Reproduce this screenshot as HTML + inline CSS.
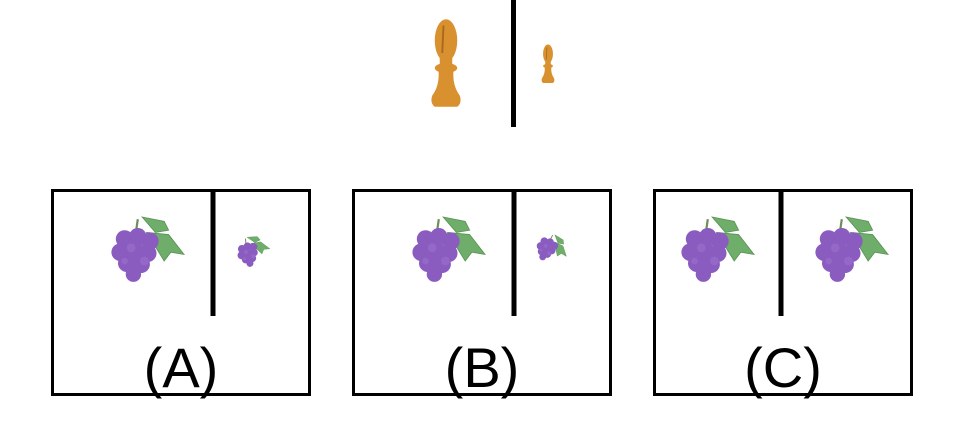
<!DOCTYPE html>
<html><head><meta charset="utf-8"><style>
html,body{margin:0;padding:0;background:#fff;}
svg{display:block;}
text{font-family:"Liberation Sans",sans-serif;}
</style></head><body>
<svg width="963" height="446" viewBox="0 0 963 446">
<defs>
<g id="grape">
  <g fill="#6fae6a" stroke="#5a9456" stroke-width="0.8">
    <polygon points="2,-30 22,-26 26,-18 14,-16"/>
    <polygon points="6,-16 26,-14 40,4 28,2 22,10"/>
  </g>
  <line x1="-2" y1="-28" x2="-4" y2="-14" stroke="#6b8f55" stroke-width="2"/>
  <g fill="#8a5cc0">
    <circle cx="-14" cy="-10" r="8"/><circle cx="-2" cy="-12" r="8"/><circle cx="9" cy="-8" r="8"/>
    <circle cx="-18" cy="2" r="8"/><circle cx="-6" cy="0" r="9"/><circle cx="7" cy="3" r="8"/>
    <circle cx="-12" cy="12" r="8"/><circle cx="1" cy="13" r="8"/>
    <circle cx="-6" cy="22" r="7"/>
  </g>
  <g fill="#9b70cc" opacity="0.6">
    <circle cx="-8" cy="-2" r="4"/><circle cx="4" cy="10" r="4"/><circle cx="-14" cy="10" r="3"/>
  </g>
</g>
<g id="pawn" fill="#d9912f">
  <ellipse cx="0" cy="-22" rx="9" ry="17"/>
  <rect x="-5" y="-8" width="10" height="8"/>
  <ellipse cx="0" cy="0" rx="9" ry="4"/>
  <path d="M-6,2 Q-5,14 -11,22 Q-13,28 -9,31 L9,31 Q13,28 11,22 Q5,14 6,2 Z"/>
  <line x1="-2" y1="-34" x2="-3" y2="-12" stroke="#a8681e" stroke-width="1.5"/>
</g>
</defs>

<rect x="511" y="0" width="5" height="127" fill="#000"/>
<use href="#pawn" transform="translate(446,68) scale(1.25)"/>
<use href="#pawn" transform="translate(548,66) scale(0.55)"/>

<g>
  <rect x="52.5" y="190.5" width="257" height="204" fill="none" stroke="#000" stroke-width="3"/>
  <rect x="210.5" y="189" width="5" height="127" fill="#000"/>
  <use href="#grape" transform="translate(140,250) scale(1.1)"/>
  <use href="#grape" transform="translate(250,252) scale(0.5) rotate(-15)"/>
  <text x="181" y="387" font-size="56" text-anchor="middle">(A)</text>
</g>
<g>
  <rect x="353.5" y="190.5" width="257" height="204" fill="none" stroke="#000" stroke-width="3"/>
  <rect x="511.5" y="189" width="5" height="127" fill="#000"/>
  <use href="#grape" transform="translate(441,250) scale(1.1)"/>
  <use href="#grape" transform="translate(549,248) scale(0.48) rotate(20)"/>
  <text x="482" y="387" font-size="56" text-anchor="middle">(B)</text>
</g>
<g>
  <rect x="654.5" y="190.5" width="257" height="204" fill="none" stroke="#000" stroke-width="3"/>
  <rect x="778.5" y="189" width="5" height="127" fill="#000"/>
  <use href="#grape" transform="translate(710,250) scale(1.1)"/>
  <use href="#grape" transform="translate(844,250) scale(1.1)"/>
  <text x="783" y="387" font-size="56" text-anchor="middle">(C)</text>
</g>
</svg>
</body></html>
